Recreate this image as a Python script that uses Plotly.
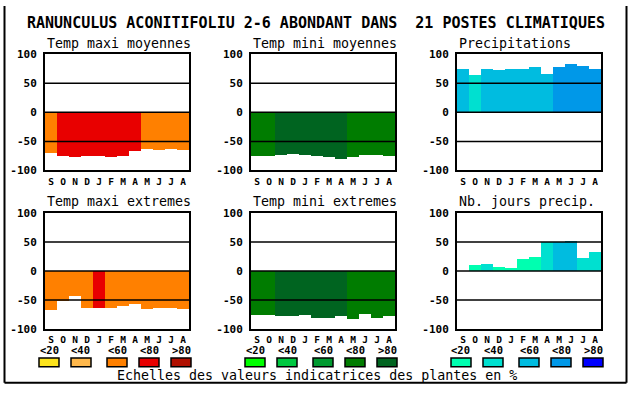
import plotly.graph_objects as go

W, H = 630, 394

months = ["S", "O", "N", "D", "J", "F", "M", "A", "M", "J", "J", "A"]

titles = ["Temp maxi moyennes", "Temp mini moyennes", "Precipitations",
          "Temp maxi extremes", "Temp mini extremes", "Nb. jours precip."]

# values (percent, negative = drawn downward)
tmax_moy = [-71, -76, -78, -76, -76, -78, -76, -68, -64, -66, -63, -66]
tmin_moy = [-76, -76, -74, -73, -74, -76, -78, -81, -78, -74, -74, -76]
precip   = [74, 64, 74, 72, 74, 74, 77, 65, 77, 82, 80, 75]
tmax_ext = [-68, -51, -43, -63, -64, -63, -61, -56, -66, -64, -64, -66]
tmin_ext = [-76, -76, -78, -78, -76, -81, -81, -78, -83, -74, -81, -78]
jours    = [0, 10, 12, 7, 5, 20, 25, 50, 50, 52, 22, 33]

# class index (0:<20, 1:<40, 2:<60, 3:<80, 4:>80) for each bar
cls_tmax_moy = [2, 3, 3, 3, 3, 3, 3, 3, 2, 2, 2, 2]
cls_tmin_moy = [3, 3, 4, 4, 4, 4, 4, 4, 3, 3, 3, 3]
cls_precip   = [2, 1, 2, 2, 2, 2, 2, 2, 3, 3, 3, 3]
cls_tmax_ext = [2, 2, 2, 2, 3, 2, 2, 2, 2, 2, 2, 2]
cls_tmin_ext = [3, 3, 4, 4, 4, 4, 4, 4, 3, 3, 3, 3]
cls_jours    = [0, 0, 1, 0, 0, 0, 0, 1, 2, 2, 1, 1]

warm_colors = ["#FCE31C", "#FFB84C", "#FF8000", "#E80000", "#B01000"]
green_colors = ["#00FF00", "#00C840", "#009A30", "#007C00", "#006420"]
water_colors = ["#00FFB0", "#00E0D0", "#00BCE0", "#0098E8", "#0000FF"]

legend_labels = ["<20", "<40", "<60", "<80", ">80"]

yticks = [-100, -50, 0, 50, 100]
yticktext = ["-100", "-50", "0", "50", "100"]

main_title = "RANUNCULUS ACONITIFOLIU 2-6 ABONDANT DANS  21 POSTES CLIMATIQUES"
footer = "Echelles des valeurs indicatrices des plantes en %"

panels = [
    (tmax_moy, cls_tmax_moy, warm_colors),
    (tmin_moy, cls_tmin_moy, green_colors),
    (precip, cls_precip, water_colors),
    (tmax_ext, cls_tmax_ext, warm_colors),
    (tmin_ext, cls_tmin_ext, green_colors),
    (jours, cls_jours, water_colors),
]

col_px = [(45, 189), (251, 395), (457, 601)]
row_px = [(50, 170), (214, 334)]

def px_x(x):
    return x / W

def px_y(y):
    return 1 - y / H

MONO = "DejaVu Sans Mono"

fig = go.Figure()
shapes = []
annotations = []

for i, (vals, cls, pal) in enumerate(panels):
    r, c = divmod(i, 3)
    n = i + 1
    xa = "x" if n == 1 else f"x{n}"
    ya = "y" if n == 1 else f"y{n}"
    fig.add_trace(go.Bar(
        x=list(range(len(months))), y=vals, base=0,
        marker=dict(color=[pal[k] for k in cls], line=dict(width=0)),
        width=1, xaxis=xa, yaxis=ya, showlegend=False, hoverinfo="skip",
    ))
    x0, x1 = col_px[c]
    y0, y1 = row_px[r]
    xkey = "xaxis" if n == 1 else f"xaxis{n}"
    ykey = "yaxis" if n == 1 else f"yaxis{n}"
    fig.layout[xkey] = dict(
        domain=[px_x(x0), px_x(x1)], anchor=ya, range=[-0.5, 11.5],
        tickvals=list(range(len(months))), ticktext=months,
        showgrid=False, zeroline=False, showline=True, mirror=True,
        linecolor="black", linewidth=2, ticks="", ticklabelstandoff=1,
        tickfont=dict(family=MONO, size=9.5, color="black", weight="bold"),
        fixedrange=True,
    )
    fig.layout[ykey] = dict(
        domain=[px_y(y1), px_y(y0)], anchor=xa, range=[-100, 100],
        tickvals=yticks, ticktext=yticktext,
        showgrid=False, zeroline=False, showline=True, mirror=True,
        linecolor="black", linewidth=2, ticks="", ticklabelstandoff=4,
        tickfont=dict(family=MONO, size=11, color="black", weight="bold"),
        fixedrange=True,
    )
    for gy in (50, 0, -50):
        shapes.append(dict(type="line", xref=f"{xa} domain", yref=ya,
                           x0=0, x1=1, y0=gy, y1=gy, layer="above",
                           line=dict(color="black", width=1.5)))
    annotations.append(dict(
        text=titles[i], x=px_x(x0), y=px_y(y0 - 11.5), xref="paper", yref="paper",
        xanchor="left", yanchor="middle", showarrow=False,
        font=dict(family=MONO, size=13.3, color="black"),
    ))

# main title
annotations.append(dict(
    text=main_title, x=px_x(316), y=px_y(18), xref="paper", yref="paper",
    xanchor="center", yanchor="middle", showarrow=False,
    font=dict(family=MONO, size=15, color="black", weight="bold"),
))

# scale legend
box_x = [
    [39, 71, 107, 139, 171],
    [245, 277, 313, 345, 377],
    [451, 483, 519, 551, 583],
]
for g, pal in enumerate([warm_colors, green_colors, water_colors]):
    for k in range(5):
        bx = box_x[g][k]
        shapes.append(dict(type="rect", xref="paper", yref="paper",
                           x0=px_x(bx), x1=px_x(bx + 20), y0=px_y(373), y1=px_y(364),
                           fillcolor=pal[k], line=dict(color="black", width=1.5)))
        annotations.append(dict(
            text=legend_labels[k], x=px_x(bx + 10), y=px_y(355.5), xref="paper", yref="paper",
            xanchor="center", yanchor="middle", showarrow=False,
            font=dict(family=MONO, size=10.5, color="black", weight="bold"),
        ))

annotations.append(dict(
    text=footer, x=px_x(316.5), y=px_y(382), xref="paper", yref="paper",
    xanchor="center", yanchor="middle", showarrow=False,
    font=dict(family=MONO, size=13.3, color="black"),
))

# outer frame
for (ax0, ay0, ax1, ay1) in [(4.5, 0, 4.5, 389.5), (626.5, 0, 626.5, 389.5), (4.5, 389.5, 626.5, 389.5)]:
    shapes.append(dict(type="line", xref="paper", yref="paper",
                       x0=px_x(ax0), x1=px_x(ax1), y0=px_y(ay0), y1=px_y(ay1),
                       line=dict(color="black", width=2)))

fig.update_layout(
    width=W, height=H, autosize=False,
    margin=dict(l=0, r=0, t=0, b=0),
    paper_bgcolor="white", plot_bgcolor="white",
    bargap=0, shapes=shapes, annotations=annotations,
    showlegend=False,
)

fig.write_html("out.html", config={"displayModeBar": False},
               post_script="document.body.style.margin='0';")
